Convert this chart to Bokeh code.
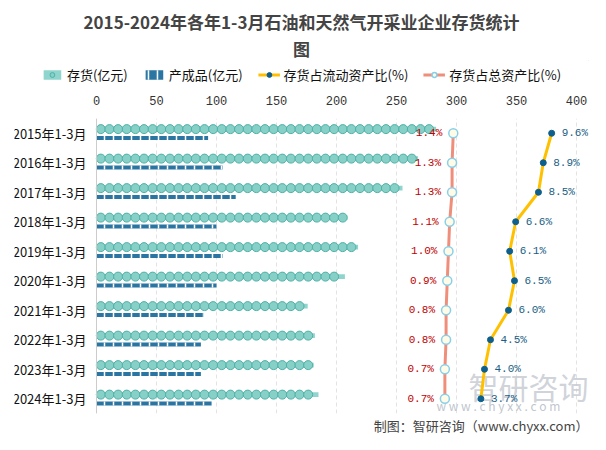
from bokeh.plotting import figure
from bokeh.layouts import column
from bokeh.models import (Range1d, FactorRange, ColumnDataSource, Legend, LegendItem,
                          Title, Label, LabelSet, FixedTicker, Span)
from bokeh.transform import dodge
from bokeh.core.properties import value
from bokeh.embed import file_html
from bokeh.resources import INLINE

categories = ["2015年1-3月", "2016年1-3月", "2017年1-3月", "2018年1-3月", "2019年1-3月",
              "2020年1-3月", "2021年1-3月", "2022年1-3月", "2023年1-3月", "2024年1-3月"]
inventory = [283, 268, 255, 209, 218, 207, 176, 182, 181, 185]
product = [93, 105, 116, 100, 105, 100, 89, 87, 87, 96]
cur_ratio = [9.6, 8.9, 8.5, 6.6, 6.1, 6.5, 6.0, 4.5, 4.0, 3.7]
tot_ratio = [1.4, 1.3, 1.3, 1.1, 1.0, 0.9, 0.8, 0.8, 0.7, 0.7]
x_ticks = [0, 50, 100, 150, 200, 250, 300, 350, 400]
title_line1 = "2015-2024年各年1-3月石油和天然气开采业企业存货统计"
title_line2 = "图"
series_names = ["存货(亿元)", "产成品(亿元)", "存货占流动资产比(%)", "存货占总资产比(%)"]
footer = "制图：智研咨询（www.chyxx.com）"

CJK = "Noto Sans CJK SC"
MONO = "Liberation Mono"
C_INV, C_INV_LINE, C_BAND = "#86d0c7", "#4fb1a7", "#8fd5cd"
C_PROD = "#2a75a2"
C_CUR, C_CUR_PT = "#ffc000", "#0f5f8c"
C_TOT, C_TOT_PT = "#ef8f7b", "#88d0ea"

# ---------------- header figure: title + legend ----------------
head = figure(width=590, height=88, output_backend="svg", toolbar_location=None, title=None,
              x_range=Range1d(0, 1), y_range=Range1d(0, 1),
              x_axis_location=None, y_axis_location=None,
              min_border_left=14, min_border_right=2, min_border_top=60, min_border_bottom=0)
head.grid.visible = False
head.outline_line_color = None
head.add_layout(Title(text=title_line2, align="center", text_font=CJK, text_font_size="17px",
                      text_font_style="bold", standoff=0), "above")
head.add_layout(Title(text=title_line1, align="center", text_font=CJK, text_font_size="17px",
                      text_font_style="bold", standoff=0), "above")

# legend-only renderers: a single point placed outside the visible range
stub = ColumnDataSource(dict(x=[5], y=[5], l=[5], r=[6]))
h_band = head.hbar(y="y", left="l", right="r", height=0.1, source=stub, fill_color=C_BAND, line_color=None)
h_dot = head.scatter(x="x", y="y", source=stub, size=9, fill_color=C_INV, line_color=C_INV_LINE)
h_prod = head.hbar(y="y", left="l", right="r", height=0.1, source=stub, fill_color=C_PROD, line_color=None,
                   hatch_pattern="vertical_line", hatch_color="white", hatch_scale=9, hatch_weight=1.5)
h_cl = head.line(x="x", y="y", source=stub, line_color=C_CUR, line_width=3)
h_cp = head.scatter(x="x", y="y", source=stub, size=6, fill_color=C_CUR_PT, line_color=C_CUR_PT)
h_tl = head.line(x="x", y="y", source=stub, line_color=C_TOT, line_width=3)
h_tp = head.scatter(x="x", y="y", source=stub, size=9, fill_color="#fffbe6", line_color=C_TOT_PT,
                    line_width=1.5)
legend = Legend(items=[
    LegendItem(label=series_names[0], renderers=[h_band, h_dot]),
    LegendItem(label=series_names[1], renderers=[h_prod]),
    LegendItem(label=series_names[2], renderers=[h_cl, h_cp]),
    LegendItem(label=series_names[3], renderers=[h_tl, h_tp]),
], orientation="horizontal", location="center", border_line_color=None,
    background_fill_alpha=0,
    label_text_font=CJK, label_text_font_size="13px", label_text_color="#111111",
    spacing=15, glyph_width=22, glyph_height=12, label_standoff=4, padding=2, margin=0)
head.add_layout(legend, "center")

# ---------------- main chart ----------------
src = ColumnDataSource(dict(
    cat=categories, inv=inventory, prod=product, cur=cur_ratio, tot=tot_ratio,
    cur_lbl=[f"{v:.1f}%" for v in cur_ratio],
    tot_lbl=[f"{v:.1f}%" for v in tot_ratio],
))

# frame starts at the left edge area; category labels are drawn left of value 0
p = figure(width=590, height=346, output_backend="svg", toolbar_location=None, title=None,
           y_range=FactorRange(*reversed(categories)), x_range=Range1d(-68.33, 410),
           x_axis_location="above", y_axis_location=None,
           min_border_left=14, min_border_right=2, min_border_top=30, min_border_bottom=0)
p.extra_x_ranges = {"pct": Range1d(-35.17, 12.67)}

xa = p.xaxis[0]
xa.ticker = FixedTicker(ticks=x_ticks)
xa.axis_line_color = None
xa.major_tick_line_color = None
xa.minor_tick_line_color = None
xa.major_label_text_font = MONO
xa.major_label_text_font_size = "12px"
xa.major_label_text_color = "#333333"
xa.major_label_standoff = 8

p.xgrid.grid_line_color = "#e3e3e3"
p.xgrid.grid_line_dash = "4 3"
p.ygrid.grid_line_color = None
p.outline_line_color = None

# category axis: line at value 0 and labels to its left
p.add_layout(Span(location=0, dimension="height", line_color="#cccccc", line_width=1))
p.add_layout(LabelSet(x=0, y="cat", text="cat", source=src, x_offset=-10, text_align="right",
                      text_baseline="middle", text_font=value(CJK), text_font_size="13px",
                      text_color="#111111"))

# watermark (behind data)
p.add_layout(Label(x=454, y=28, x_units="screen", y_units="screen", text="智研咨询",
                   text_baseline="middle", level="underlay",
                   text_font=CJK, text_font_size="30px", text_color="#c3c8d0", text_alpha=0.8))
p.add_layout(Label(x=422, y=8, x_units="screen", y_units="screen", text="w w w . c h y x x . c o m",
                   text_baseline="middle", level="underlay",
                   text_font=CJK, text_font_size="12px", text_color="#b8bec8", text_alpha=0.9))

# inventory pictorial bars
p.hbar(y=dodge("cat", 0.14, range=p.y_range), right="inv", left=0, height=0.16,
       source=src, fill_color=C_BAND, line_color=None)
step = 7.2
cx, cy = [], []
for c, v in zip(categories, inventory):
    x = step / 2
    while x + step / 2 <= v + 0.01:
        cx.append(x)
        cy.append(c)
        x += step
csrc = ColumnDataSource(dict(x=cx, y=cy))
p.scatter(x="x", y=dodge("y", 0.14, range=p.y_range), source=csrc, size=9,
          fill_color=C_INV, line_color=C_INV_LINE, line_width=1)

# product bars
p.hbar(y=dodge("cat", -0.16, range=p.y_range), right="prod", left=0, height=0.14,
       source=src, fill_color=C_PROD, line_color=None,
       hatch_pattern="vertical_line", hatch_color="white", hatch_scale=9, hatch_weight=1.5)

# ratio lines
p.line(x="cur", y="cat", source=src, x_range_name="pct", line_color=C_CUR, line_width=3)
p.scatter(x="cur", y="cat", source=src, x_range_name="pct", size=6,
          fill_color=C_CUR_PT, line_color=C_CUR_PT)
p.line(x="tot", y="cat", source=src, x_range_name="pct", line_color=C_TOT, line_width=3)
p.scatter(x="tot", y="cat", source=src, x_range_name="pct", size=9,
          fill_color="#fffbe6", line_color=C_TOT_PT, line_width=1.5)

p.add_layout(LabelSet(x="cur", y="cat", text="cur_lbl", source=src, x_range_name="pct",
                      x_offset=10, y_offset=0, text_baseline="middle",
                      text_font=value(MONO), text_font_size="11px", text_color="#1a5e84"))
p.add_layout(LabelSet(x="tot", y="cat", text="tot_lbl", source=src, x_range_name="pct",
                      x_offset=-11, y_offset=0, text_align="right", text_baseline="middle",
                      text_font=value(MONO), text_font_size="11px", text_color="#c00000"))

p.add_layout(Title(text=footer, align="right", text_font=CJK,
                   text_font_size="13px", text_font_style="normal", offset=0, standoff=0), "below")

layout = column(head, p, spacing=0)
open("out.html", "w").write(file_html(layout, INLINE))
